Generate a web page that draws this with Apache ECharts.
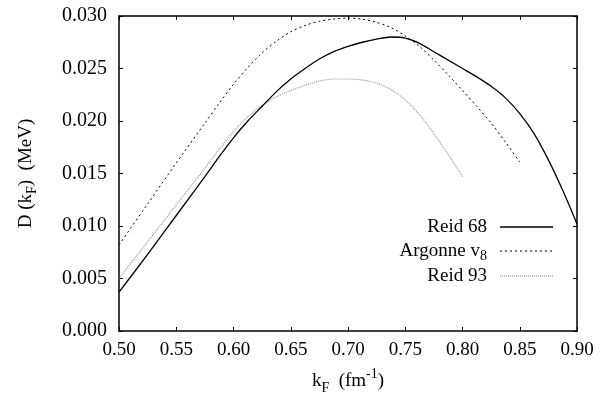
<!DOCTYPE html>
<html><head><meta charset="utf-8">
<script src="https://cdn.jsdelivr.net/npm/echarts@6/dist/echarts.min.js"></script>
<style>html,body{margin:0;padding:0;background:#fff}#c{width:613px;height:400px}</style>
</head><body><div id="c"></div>
<script>
var xTicks = [0.50,0.55,0.60,0.65,0.70,0.75,0.80,0.85,0.90];
var yTicks = [0.000,0.005,0.010,0.015,0.020,0.025,0.030];
var names = ['Reid 68','Argonne v8','Reid 93'];
var reid68X = [0.500,0.525,0.550,0.575,0.5875,0.600,0.6125,0.625,0.6375,0.650,0.6625,0.675,0.6875,0.700,0.7125,0.725,0.7375,0.750,0.7625,0.775,0.7875,0.800,0.8125,0.825,0.8375,0.850,0.8625,0.875,0.8875,0.900];
var reid68Y = [0.0037,0.0073,0.0110,0.0147,0.0166,0.0184,0.0200,0.0214,0.0228,0.0240,0.0250,0.0259,0.0266,0.0271,0.0275,0.0278,0.0280,0.0279,0.0274,0.0266,0.0258,0.0250,0.0242,0.0233,0.0222,0.0207,0.0188,0.0163,0.0134,0.0102];
var argX = [0.500,0.525,0.550,0.575,0.5875,0.600,0.6125,0.625,0.6375,0.650,0.6625,0.675,0.6875,0.700,0.7125,0.725,0.7375,0.750,0.7625,0.775,0.7875,0.800,0.8125,0.825,0.8375,0.850];
var argY = [0.0082,0.0121,0.0160,0.0198,0.0217,0.0235,0.0251,0.0265,0.0276,0.0285,0.0291,0.0295,0.0297,0.0298,0.0297,0.0294,0.0289,0.0281,0.0271,0.0258,0.0244,0.0229,0.0214,0.0198,0.0180,0.0161];
var reid93X = [0.500,0.525,0.550,0.575,0.5875,0.600,0.6125,0.625,0.6375,0.650,0.6625,0.675,0.6875,0.700,0.7125,0.725,0.7375,0.750,0.7625,0.775,0.7875,0.800];
var reid93Y = [0.0050,0.0085,0.0120,0.0155,0.0173,0.0190,0.0204,0.0215,0.0223,0.0229,0.0234,0.0238,0.0240,0.0240,0.0239,0.0236,0.0230,0.0220,0.0206,0.0188,0.0168,0.0147];

function pairs(xs, ys){ return xs.map(function(x,i){return [x, ys[i]];}); }
var FONT = 'Liberation Serif';
var chart = echarts.init(document.getElementById('c'), null, {renderer:'canvas'});
var styles = [
  {color:'#000', width:1.3, type:'solid'},
  {color:'#000', width:1, type:[2,3]},
  {color:'#999', width:1.2, type:[1,1]}
];
var gridL=119, gridR=36, gridT=16, gridB=66;
var legendY = [227, 251, 276];
var graphics = [];
names.forEach(function(n,i){
  graphics.push({type:'line', shape:{x1:500,y1:legendY[i],x2:553,y2:legendY[i]},
    style:{stroke:styles[i].color, lineWidth:styles[i].width, lineDash: styles[i].type==='solid'?null:styles[i].type}});
  graphics.push({type:'text', x:487, y:legendY[i],
    style:{text: i===1 ? 'Argonne v{s|8}' : n, rich:{s:{fontFamily:FONT,fontSize:14,fill:'#000',padding:[10,0,0,0]}},
      font:'19px "Liberation Serif"', fill:'#000', textAlign:'right', textVerticalAlign:'middle'}});
});
var axisCommon = {
  axisLine:{show:true, onZero:false, lineStyle:{color:'#000', width:1.5}},
  axisTick:{show:true, inside:true, length:4, lineStyle:{color:'#000', width:1}},
  splitLine:{show:false}
};
chart.setOption({
  animation:false,
  grid:{left:gridL, right:gridR, top:gridT, bottom:gridB, show:false},
  xAxis:[
    Object.assign({type:'value', min:0.5, max:0.9, interval:0.05, position:'bottom',
      axisLabel:{fontFamily:FONT, fontSize:19, color:'#000', margin:10, formatter:function(v){return v.toFixed(2);}},
      name:'{m|k}{s|F}{m|  (fm}{p|-1}{m|)}', nameLocation:'middle', nameGap:36,
      nameTextStyle:{fontFamily:FONT, fontSize:19, color:'#000',
        rich:{m:{fontFamily:FONT,fontSize:19,color:'#000',lineHeight:28,verticalAlign:'middle'},
              s:{fontFamily:FONT,fontSize:14,color:'#000',lineHeight:14,verticalAlign:'bottom'},
              p:{fontFamily:FONT,fontSize:14,color:'#000',lineHeight:14,verticalAlign:'top'}}}
    }, axisCommon),
    Object.assign({type:'value', min:0.5, max:0.9, interval:0.05, position:'top', axisLabel:{show:false}}, axisCommon)
  ],
  yAxis:[
    Object.assign({type:'value', min:0, max:0.03, interval:0.005, position:'left',
      axisLabel:{fontFamily:FONT, fontSize:20, color:'#000', margin:12, formatter:function(v){return v.toFixed(3);}},
      name:'D (k{s|F})  (MeV)', nameLocation:'middle', nameGap:80, nameRotate:90,
      nameTextStyle:{fontFamily:FONT, fontSize:19, color:'#000',
        rich:{s:{fontFamily:FONT,fontSize:14,color:'#000',padding:[12,0,0,0]}}}
    }, axisCommon),
    Object.assign({type:'value', min:0, max:0.03, interval:0.005, position:'right', axisLabel:{show:false}}, axisCommon)
  ],
  series:[
    {name:names[0], type:'line', data:pairs(reid68X,reid68Y), smooth:0.3, showSymbol:false, lineStyle:styles[0], z:3},
    {name:names[1], type:'line', data:pairs(argX,argY), smooth:0.3, showSymbol:false, lineStyle:styles[1], z:2},
    {name:names[2], type:'line', data:pairs(reid93X,reid93Y), smooth:0.3, showSymbol:false, lineStyle:styles[2], z:1}
  ],
  graphic:graphics
});
</script></body></html>
